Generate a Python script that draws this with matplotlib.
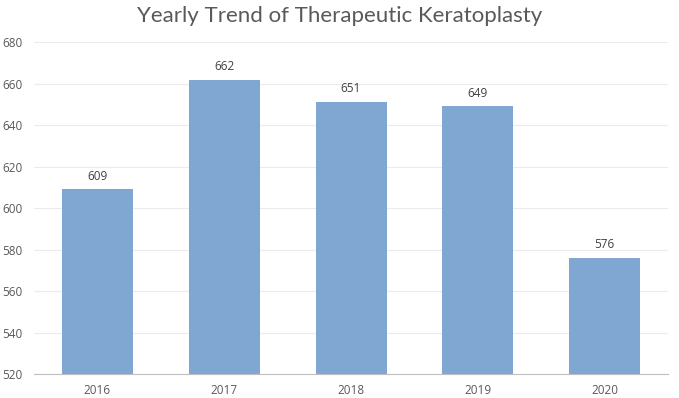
import matplotlib
matplotlib.use('Agg')
import matplotlib.pyplot as plt

# Data
years = ['2016', '2017', '2018', '2019', '2020']
counts = [609, 662, 651, 649, 576]

plt.rcParams['font.family'] = ['Open Sans', 'DejaVu Sans']

fig = plt.figure(figsize=(6.79, 3.98), dpi=100)
ax = fig.add_axes([0.050, 0.060, 0.934, 0.834])

bars = ax.bar(years, counts, width=0.56, color='#80A6D2', zorder=2)
for b, v in zip(bars, counts):
    ax.annotate(str(v), (b.get_x() + b.get_width() / 2, v), xytext=(0, 5),
                textcoords='offset points', ha='center', va='bottom',
                fontsize=8.5, color='#404040')

ax.set_ylim(520, 680)
ax.set_xlim(-0.5, 4.5)
ax.set_yticks(range(520, 681, 20))
ax.grid(axis='y', color='#EBEBEB', linewidth=0.8, zorder=0)
for s in ['top', 'right', 'left']:
    ax.spines[s].set_visible(False)
ax.spines['bottom'].set_color('#BFBFBF')
ax.tick_params(axis='both', length=0, labelsize=8.5, colors='#595959', pad=7)
ax.tick_params(axis='y', pad=8)

fig.suptitle('Yearly Trend of Therapeutic Keratoplasty', fontsize=16,
             family=['Lato', 'DejaVu Sans'], color='#595959', y=0.985, va='top')

fig.savefig('out.png', dpi=100)
